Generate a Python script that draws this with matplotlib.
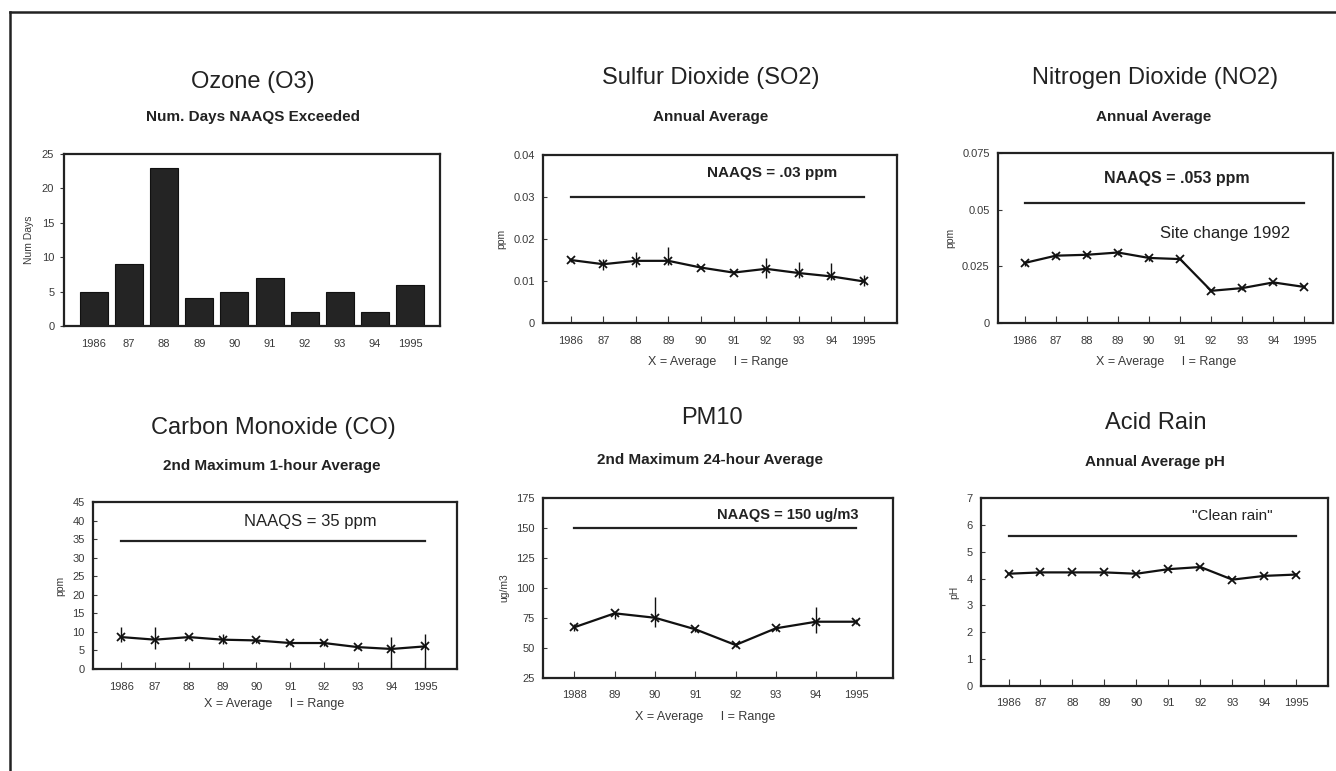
import matplotlib
matplotlib.use("Agg")
import matplotlib.pyplot as plt
from matplotlib.lines import Line2D
import numpy as np

plt.rcParams['font.family'] = ['Liberation Sans', 'DejaVu Sans']

# ---------------- data ----------------
years10 = ['1986', '87', '88', '89', '90', '91', '92', '93', '94', '1995']
years8 = ['1988', '89', '90', '91', '92', '93', '94', '1995']

ozone_days = [5, 9, 23, 4, 5, 7, 2, 5, 2, 6]

so2_avg = [0.0150, 0.0140, 0.0148, 0.0148, 0.0132, 0.0120, 0.0129, 0.0119, 0.0111, 0.0099]
so2_lo = [0.0145, 0.0127, 0.0133, 0.0138, 0.0128, 0.0117, 0.0107, 0.0107, 0.0103, 0.0087]
so2_hi = [0.0155, 0.0153, 0.0170, 0.0182, 0.0135, 0.0123, 0.0154, 0.0146, 0.0143, 0.0115]
so2_std = 0.03

no2_avg = [0.0265, 0.0297, 0.0301, 0.0311, 0.0287, 0.0282, 0.0142, 0.0154, 0.0179, 0.0159]
no2_lo = [0.0250, 0.0287, 0.0291, 0.0301, 0.0275, 0.0280, 0.0135, 0.0147, 0.0172, 0.0155]
no2_hi = [0.0275, 0.0307, 0.0311, 0.0321, 0.0297, 0.0285, 0.0150, 0.0161, 0.0186, 0.0163]
no2_std = 0.053

co_avg = [8.6, 7.9, 8.6, 7.9, 7.7, 7.0, 7.0, 5.9, 5.4, 6.1]
co_lo = [7.2, 5.4, 8.0, 6.8, 7.0, 6.5, 6.3, 5.3, 0.0, 0.0]
co_hi = [11.3, 11.3, 9.0, 9.5, 8.3, 7.5, 7.6, 6.6, 8.6, 9.5]
co_std = 34.5

pm_avg = [67.3, 78.9, 75.2, 65.6, 52.5, 66.4, 71.9, 71.9]
pm_lo = [64.0, 74.0, 67.7, 63.5, 50.5, 64.5, 62.8, 70.0]
pm_hi = [70.0, 81.0, 92.7, 67.5, 54.5, 68.5, 83.9, 74.0]
pm_std = 150

ph_avg = [4.18, 4.23, 4.23, 4.23, 4.18, 4.35, 4.43, 3.96, 4.10, 4.15]
ph_clean = 5.6

# ---------------- figure ----------------
W, H = 1336, 771
fig = plt.figure(figsize=(W / 100, H / 100), dpi=100)
fig.patch.set_facecolor('white')


def add_ax(left, right, top, bottom):
    return fig.add_axes([left / W, 1 - bottom / H, (right - left) / W, (bottom - top) / H])


def ftext(x, y, s, **kw):
    fig.text(x / W, 1 - y / H, s, ha='center', va='center', **kw)


TICK_FS = 8
TITLE_FS = 17
SUB_FS = 11
NOTE_FS = 7.5
XL_FS = 9
TXT_COL = '#222222'
TICK_COL = '#3a3a3a'


def style_axes(ax):
    for sp in ax.spines.values():
        sp.set_linewidth(1.6)
        sp.set_color('#222222')
    ax.tick_params(axis='both', labelsize=TICK_FS, colors=TICK_COL, labelcolor=TICK_COL)


def line_panel(ax, labels, avg, lo, hi, std, xlim, ylim, yticks, yticklabels, ylabel):
    x = np.arange(len(labels))
    ax.vlines(x, lo, hi, color='#111111', lw=1.0, zorder=3)
    ax.plot(x, avg, color='#111111', lw=1.6, marker='x', ms=6, mew=1.3, zorder=4)
    if std is not None:
        ax.plot([x[0], x[-1]], [std, std], color='#222222', lw=1.6)
    ax.set_xlim(*xlim)
    ax.set_ylim(*ylim)
    ax.set_xticks(x)
    ax.set_xticklabels(labels)
    ax.set_yticks(yticks)
    ax.set_yticklabels(yticklabels)
    ax.tick_params(axis='x', direction='in', length=5, width=0.8, pad=9)
    ax.tick_params(axis='y', direction='in', length=3, width=0.8, pad=6)
    ax.set_ylabel(ylabel, fontsize=NOTE_FS, color=TICK_COL, labelpad=5)
    style_axes(ax)


# ---- Ozone ----
ax1 = add_ax(64, 440, 154, 326)
xb = np.arange(len(years10))
ax1.bar(xb, ozone_days, width=0.8, color='#242424', edgecolor='#111111', lw=0.8)
ax1.set_xlim(-0.85, 9.85)
ax1.set_ylim(0, 25)
ax1.set_xticks(xb)
ax1.set_xticklabels(years10)
ax1.set_yticks([0, 5, 10, 15, 20, 25])
ax1.tick_params(axis='x', length=0, pad=9)
ax1.tick_params(axis='y', direction='out', length=3, width=0.8, pad=4)
ax1.set_ylabel('Num Days', fontsize=NOTE_FS, color=TICK_COL, labelpad=6)
style_axes(ax1)
ftext(253, 82, 'Ozone (O3)', fontsize=TITLE_FS, color=TXT_COL)
ftext(253, 117, 'Num. Days NAAQS Exceeded', fontsize=SUB_FS, fontweight='bold', color=TXT_COL)

# ---- SO2 ----
ax2 = add_ax(543, 897, 155, 323)
line_panel(ax2, years10, so2_avg, so2_lo, so2_hi, so2_std, (-0.85, 10.02), (0, 0.04),
           [0, 0.01, 0.02, 0.03, 0.04], ['0', '0.01', '0.02', '0.03', '0.04'], 'ppm')
ax2.text(6.2, 0.0356, 'NAAQS = .03 ppm', fontsize=11, fontweight='bold', ha='center', va='center', color=TXT_COL)
ftext(711, 78, 'Sulfur Dioxide (SO2)', fontsize=TITLE_FS, color=TXT_COL)
ftext(711, 117, 'Annual Average', fontsize=SUB_FS, fontweight='bold', color=TXT_COL)
ftext(718, 362, 'X = Average     I = Range', fontsize=XL_FS, color=TICK_COL)

# ---- NO2 ----
ax3 = add_ax(998, 1333, 153, 323)
line_panel(ax3, years10, no2_avg, no2_lo, no2_hi, no2_std, (-0.86, 9.92), (0, 0.075),
           [0, 0.025, 0.05, 0.075], ['0', '0.025', '0.05', '0.075'], 'ppm')
ax3.text(4.9, 0.0639, 'NAAQS = .053 ppm', fontsize=11.5, fontweight='bold', ha='center', va='center', color=TXT_COL)
ax3.text(6.45, 0.0397, 'Site change 1992', fontsize=12, ha='center', va='center', color=TXT_COL)
ftext(1155, 78, 'Nitrogen Dioxide (NO2)', fontsize=TITLE_FS, color=TXT_COL)
ftext(1154, 117, 'Annual Average', fontsize=SUB_FS, fontweight='bold', color=TXT_COL)
ftext(1166, 362, 'X = Average     I = Range', fontsize=XL_FS, color=TICK_COL)

# ---- CO ----
ax4 = add_ax(93, 457, 502, 669)
line_panel(ax4, years10, co_avg, co_lo, co_hi, co_std, (-0.84, 9.94), (0, 45),
           list(range(0, 50, 5)), [str(v) for v in range(0, 50, 5)], 'ppm')
ax4.text(5.6, 39.7, 'NAAQS = 35 ppm', fontsize=12, ha='center', va='center', color=TXT_COL)
ftext(273, 428, 'Carbon Monoxide (CO)', fontsize=TITLE_FS, color=TXT_COL)
ftext(272, 466, '2nd Maximum 1-hour Average', fontsize=SUB_FS, fontweight='bold', color=TXT_COL)
ftext(274, 704, 'X = Average     I = Range', fontsize=XL_FS, color=TICK_COL)

# ---- PM10 ----
ax5 = add_ax(543, 893, 498, 678)
line_panel(ax5, years8, pm_avg, pm_lo, pm_hi, pm_std, (-0.78, 7.91), (25, 175),
           [25, 50, 75, 100, 125, 150, 175], ['25', '50', '75', '100', '125', '150', '175'], 'ug/m3')
ax5.text(5.3, 160.8, 'NAAQS = 150 ug/m3', fontsize=10.5, fontweight='bold', ha='center', va='center', color=TXT_COL)
ftext(712, 418, 'PM10', fontsize=TITLE_FS, color=TXT_COL)
ftext(710, 460, '2nd Maximum 24-hour Average', fontsize=SUB_FS, fontweight='bold', color=TXT_COL)
ftext(705, 717, 'X = Average     I = Range', fontsize=XL_FS, color=TICK_COL)

# ---- Acid Rain ----
ax6 = add_ax(981, 1328, 498, 686)
x6 = np.arange(len(years10))
ax6.plot(x6, ph_avg, color='#111111', lw=1.6, marker='x', ms=6, mew=1.3, zorder=4)
ax6.plot([x6[0], x6[-1]], [ph_clean, ph_clean], color='#222222', lw=1.6)
ax6.set_xlim(-0.86, 9.99)
ax6.set_ylim(0, 7)
ax6.set_xticks(x6)
ax6.set_xticklabels(years10)
ax6.set_yticks(range(0, 8))
ax6.tick_params(axis='x', direction='in', length=5, width=0.8, pad=9)
ax6.tick_params(axis='y', direction='in', length=3, width=0.8, pad=6)
ax6.set_ylabel('pH', fontsize=NOTE_FS, color=TICK_COL, labelpad=5)
style_axes(ax6)
ax6.text(7.0, 6.32, '"Clean rain"', fontsize=11, ha='center', va='center', color=TXT_COL)
ftext(1156, 423, 'Acid Rain', fontsize=TITLE_FS, color=TXT_COL)
ftext(1155, 462, 'Annual Average pH', fontsize=SUB_FS, fontweight='bold', color=TXT_COL)

# ---- outer frame (left and top edges visible) ----
fig.add_artist(Line2D([9.5 / W, 9.5 / W], [0, 1 - 12 / H], transform=fig.transFigure, color='#222222', lw=1.8))
fig.add_artist(Line2D([9.5 / W, 1], [1 - 12 / H, 1 - 12 / H], transform=fig.transFigure, color='#222222', lw=1.8))

fig.savefig('out.png', dpi=100, facecolor='white')
